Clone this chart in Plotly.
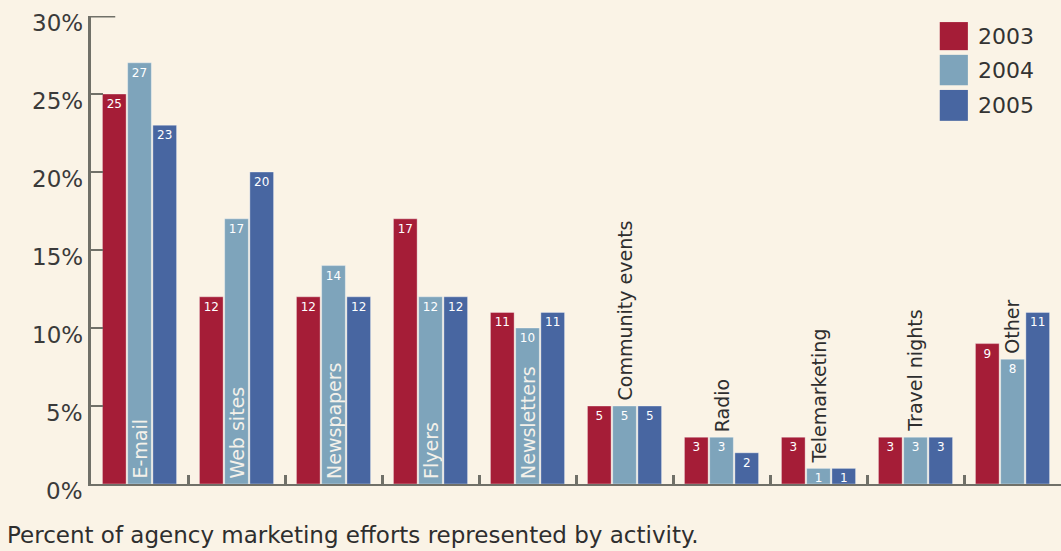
import plotly.graph_objects as go

categories = ["E-mail", "Web sites", "Newspapers", "Flyers", "Newsletters",
              "Community events", "Radio", "Telemarketing", "Travel nights", "Other"]
years = ["2003", "2004", "2005"]
v2003 = [25, 12, 12, 17, 11, 5, 3, 3, 3, 9]
v2004 = [27, 17, 14, 12, 10, 5, 3, 1, 3, 8]
v2005 = [23, 20, 12, 12, 11, 5, 2, 1, 3, 11]
y_ticks = [0, 5, 10, 15, 20, 25, 30]
y_ticklabels = ["0%", "5%", "10%", "15%", "20%", "25%", "30%"]

colors = ["#A51D37", "#7EA4BB", "#4866A1"]
bg = "#FAF3E6"
axis_col = "#707068"
FONT = "DejaVu Sans"

fig = go.Figure()
for name, vals, col in zip(years, [v2003, v2004, v2005], colors):
    fig.add_trace(go.Bar(
        x=categories, y=vals, name=name,
        marker=dict(color=col, line=dict(color="rgba(255,255,255,0.35)", width=1)),
        text=vals, textposition="inside", insidetextanchor="end", textangle=0,
        constraintext="none",
        textfont=dict(color="white", size=12, family=FONT),
        showlegend=False,
    ))

annotations = []
# Category labels: inside the middle bar when tall enough, else above it
for cat, v in zip(categories, v2004):
    if v >= 10:
        annotations.append(dict(x=cat, y=0, xref="x", yref="y", text=cat,
                                textangle=-90, showarrow=False, xanchor="center",
                                yanchor="bottom", yshift=3,
                                font=dict(color="#F4F1EA", size=19, family=FONT)))
    else:
        annotations.append(dict(x=cat, y=v, xref="x", yref="y", text=cat,
                                textangle=-90, showarrow=False, xanchor="center",
                                yanchor="bottom", yshift=3,
                                font=dict(color="#2E2E2E", size=19, family=FONT)))

# y tick labels (slightly below the ticks, as in the original)
for t, lab in zip(y_ticks, y_ticklabels):
    annotations.append(dict(x=0, y=t, xref="paper", yref="y", text=lab,
                            showarrow=False, xanchor="right", yanchor="middle",
                            xshift=-6, yshift=-7,
                            font=dict(color="#3A3A3A", size=23, family=FONT)))

# Custom legend
shapes = []
leg_y = [(0.987, 0.927), (0.917, 0.852), (0.842, 0.776)]
for (y1, y0), col, name in zip(leg_y, colors, years):
    shapes.append(dict(type="rect", xref="paper", yref="paper",
                       x0=0.875, x1=0.904, y0=y0, y1=y1,
                       fillcolor=col, line=dict(width=0)))
    annotations.append(dict(x=0.912, y=(y0 + y1) / 2, xref="paper", yref="paper",
                            text=name, showarrow=False, xanchor="left", yanchor="middle",
                            font=dict(color="#333333", size=22, family=FONT)))

# longer top tick
shapes.append(dict(type="line", xref="paper", yref="y", x0=0, x1=0.025, y0=30, y1=30,
                   line=dict(color=axis_col, width=3)))

annotations.append(dict(x=0, y=-0.108, xref="paper", yref="paper", xshift=-86,
                        text="Percent of agency marketing efforts represented by activity.",
                        showarrow=False, xanchor="left", yanchor="middle",
                        font=dict(color="#2E2E2E", size=23, family=FONT)))

fig.update_layout(
    width=1061, height=551,
    margin=dict(l=91, r=0, t=16, b=67),
    paper_bgcolor=bg, plot_bgcolor=bg,
    barmode="group", bargap=0.22, bargroupgap=0.06,
    annotations=annotations, shapes=shapes,
    font=dict(family=FONT),
)
fig.update_xaxes(showticklabels=False, showline=True, linecolor=axis_col, linewidth=2,
                 ticks="inside", tickson="boundaries", ticklen=9, tickwidth=3,
                 tickcolor=axis_col, range=[-0.5, 9.5], showgrid=False, zeroline=False)
fig.update_yaxes(range=[0, 30], tickvals=y_ticks, showticklabels=False,
                 showline=True, linecolor=axis_col, linewidth=3,
                 ticks="inside", ticklen=12, tickwidth=2, tickcolor=axis_col,
                 showgrid=False, zeroline=False)

fig.write_html("out.html")
